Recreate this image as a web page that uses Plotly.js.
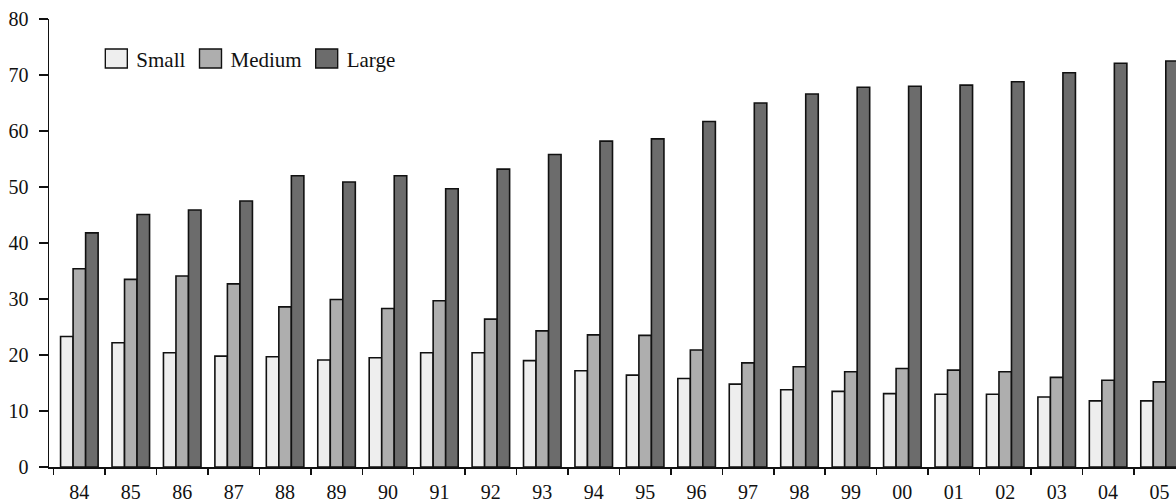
<!DOCTYPE html>
<html>
<head>
<meta charset="utf-8">
<script src="https://cdn.plot.ly/plotly-3.0.1.min.js"></script>
<style>
html,body{margin:0;padding:0;background:#fff;}
#chart{width:1176px;height:502px;}
</style>
</head>
<body>
<div id="chart"></div>
<script>
const years = ['84','85','86','87','88','89','90','91','92','93','94','95','96','97','98','99','00','01','02','03','04','05'];
const small = [23.3,22.2,20.4,19.8,19.7,19.1,19.5,20.4,20.4,19.0,17.2,16.4,15.8,14.8,13.8,13.5,13.1,13.0,13.0,12.5,11.8,11.8];
const medium = [35.4,33.5,34.1,32.7,28.6,29.9,28.3,29.7,26.4,24.3,23.6,23.5,20.9,18.6,17.9,17.0,17.6,17.3,17.0,16.0,15.5,15.2];
const large = [41.8,45.1,45.9,47.5,52.0,50.9,52.0,49.7,53.2,55.8,58.2,58.6,61.7,65.0,66.6,67.8,68.0,68.2,68.8,70.4,72.1,72.5];
const yTicks = [0,10,20,30,40,50,60,70,80];

const font = 'Liberation Serif, Times New Roman, serif';
function bar(name, vals, color){
  return {type:'bar', name:name, x:years, y:vals,
    marker:{color:color, line:{color:'#111', width:1.6}}, hoverinfo:'x+y+name'};
}
const data = [
  bar('Small', small, '#eeeeee'),
  bar('Medium', medium, '#aeaeae'),
  bar('Large', large, '#6c6c6c')
];
const layout = {
  width:1176, height:502,
  margin:{l:49, r:0, t:19, b:35},
  paper_bgcolor:'#fff', plot_bgcolor:'#fff',
  barmode:'group', bargap:0.27, bargroupgap:0,
  font:{family:font, size:20, color:'#111'},
  showlegend:true,
  legend:{orientation:'h', x:0.042, xanchor:'left', y:0.911, yanchor:'middle',
    font:{family:font, size:21, color:'#111'}, bgcolor:'rgba(0,0,0,0)', borderwidth:0,
    traceorder:'normal'},
  xaxis:{type:'category', range:[-0.59, 21.32], showline:true, linecolor:'#111', linewidth:1.5,
    ticks:'outside', ticklen:6, tickwidth:1.5, tickcolor:'#111', tickson:'boundaries',
    ticklabelstandoff:6,
    showgrid:false, zeroline:false, tickfont:{family:font, size:20, color:'#111'}, fixedrange:true},
  yaxis:{range:[0,80], tickvals:yTicks, showline:true, linecolor:'#111', linewidth:1.5,
    ticks:'outside', ticklen:9, tickwidth:1.5, tickcolor:'#111', ticklabelstandoff:6,
    showgrid:false, zeroline:false, tickfont:{family:font, size:20, color:'#111'}, fixedrange:true}
};
Plotly.newPlot('chart', data, layout, {displayModeBar:false, staticPlot:true}).then(function(gd){
  // enlarge the legend swatches to match the reference's larger boxes
  gd.querySelectorAll('.legend .legendpoints path').forEach(function(p){
    p.setAttribute('d', 'M11,9.5H-11V-9.5H11Z');
    p.style.strokeWidth = '1.4px';
  });
});
</script>
</body>
</html>
